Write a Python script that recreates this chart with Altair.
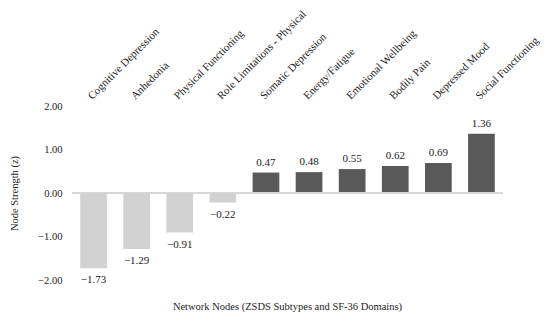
import altair as alt
import pandas as pd

categories = ["Cognitive Depression", "Anhedonia", "Physical Functioning",
              "Role Limitations - Physical", "Somatic Depression", "Energy/Fatigue",
              "Emotional Wellbeing", "Bodily Pain", "Depressed Mood", "Social Functioning"]
values = [-1.73, -1.29, -0.91, -0.22, 0.47, 0.48, 0.55, 0.62, 0.69, 1.36]
y_ticks = [-2.0, -1.5, -1.0, -0.5, 0.0, 0.5, 1.0, 1.5, 2.0]

df = pd.DataFrame({"node": categories, "strength": values})
FONT = "Liberation Serif"

x = alt.X("node:N", sort=categories,
          scale=alt.Scale(paddingInner=0.38, paddingOuter=0.19),
          axis=alt.Axis(orient="top", labelAngle=-45, title=None, ticks=False,
                        domain=False, labelPadding=5, labelFont=FONT,
                        labelFontSize=11, labelColor="#222"))
y = alt.Y("strength:Q", scale=alt.Scale(domain=[-2, 2], nice=False),
          axis=alt.Axis(values=y_ticks, format=".2f", grid=False, ticks=False,
                        domain=False, labelPadding=10, labelFont=FONT,
                        labelFontSize=10.5, labelColor="#222",
                        title="Node Strength (z)", titleFont=FONT, titleFontSize=10.5,
                        titleFontWeight="normal", titleColor="#222", titlePadding=18))

base = alt.Chart(df)

bars = base.mark_bar().encode(
    x=x, y=y,
    color=alt.condition(alt.datum.strength < 0, alt.value("#d2d2d2"), alt.value("#595959")),
)

zero = base.mark_rule(color="#d6d6d6", strokeWidth=1).encode(y=alt.datum(0))

pos_text = base.transform_filter(alt.datum.strength >= 0).mark_text(
    baseline="bottom", dy=-5, font=FONT, fontSize=11, color="#222"
).encode(x=x, y=y, text=alt.Text("strength:Q", format=".2f"))

neg_text = base.transform_filter(alt.datum.strength < 0).mark_text(
    baseline="top", dy=6, font=FONT, fontSize=11, color="#222"
).encode(x=x, y=y, text=alt.Text("strength:Q", format=".2f"))

chart = alt.layer(bars, zero, pos_text, neg_text).properties(
    width=431, height=174,
    padding={"left": 64, "top": 98, "right": 39, "bottom": 33},
    autosize=alt.AutoSizeParams(type="none"),
    title=alt.TitleParams("Network Nodes (ZSDS Subtypes and SF-36 Domains)",
                          orient="bottom", offset=16, font=FONT, fontSize=10.5,
                          fontWeight="normal", color="#222", anchor="middle"),
).configure_view(stroke=None)

chart.save("out.html", embed_options={"renderer": "svg", "actions": False})
